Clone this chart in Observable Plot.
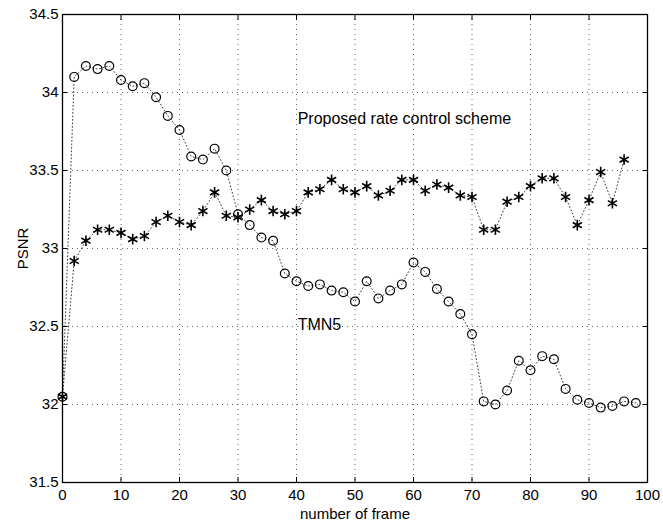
<!DOCTYPE html>
<html>
<head>
<meta charset="utf-8">
<script src="https://cdn.jsdelivr.net/npm/d3@7"></script>
<script src="https://cdn.jsdelivr.net/npm/@observablehq/plot@0.6"></script>
<style>
  html, body { margin: 0; padding: 0; background: #fff; }
  #chart svg { display: block; }
</style>
</head>
<body>
<div id="chart"></div>
<script>
const framesTMN5 = [0,2,4,6,8,10,12,14,16,18,20,22,24,26,28,30,32,34,36,38,40,42,44,46,48,50,52,54,56,58,60,62,64,66,68,70,72,74,76,78,80,82,84,86,88,90,92,94,96,98];
const psnrTMN5 = [32.05,34.10,34.17,34.15,34.17,34.08,34.04,34.06,33.97,33.85,33.76,33.59,33.57,33.64,33.50,33.22,33.15,33.07,33.05,32.84,32.79,32.76,32.77,32.73,32.72,32.66,32.79,32.68,32.73,32.77,32.91,32.85,32.74,32.66,32.58,32.45,32.02,32.00,32.09,32.28,32.22,32.31,32.29,32.10,32.03,32.01,31.98,31.99,32.02,32.01];
const framesProposed = [0,2,4,6,8,10,12,14,16,18,20,22,24,26,28,30,32,34,36,38,40,42,44,46,48,50,52,54,56,58,60,62,64,66,68,70,72,74,76,78,80,82,84,86,88,90,92,94,96];
const psnrProposed = [32.05,32.92,33.05,33.12,33.12,33.10,33.06,33.08,33.17,33.21,33.17,33.15,33.24,33.36,33.21,33.20,33.25,33.31,33.24,33.22,33.24,33.36,33.38,33.44,33.38,33.36,33.40,33.34,33.37,33.44,33.44,33.37,33.41,33.39,33.34,33.33,33.12,33.12,33.30,33.33,33.40,33.45,33.45,33.33,33.15,33.31,33.49,33.29,33.57];
const xTicks = [0,10,20,30,40,50,60,70,80,90,100];
const yTicks = [31.5,32,32.5,33,33.5,34,34.5];
const labelTexts = ["Proposed rate control scheme", "TMN5"];
const labelX = [40.2, 40.2];
const labelY = [33.83, 32.51];

const tmn5 = framesTMN5.map((f, i) => ({frame: f, psnr: psnrTMN5[i]}));
const proposed = framesProposed.map((f, i) => ({frame: f, psnr: psnrProposed[i]}));
const labels = labelTexts.map((t, i) => ({text: t, x: labelX[i], y: labelY[i]}));

const dash = "1,4";
const chart = Plot.plot({
  width: 663,
  height: 521,
  marginLeft: 62,
  marginRight: 16,
  marginTop: 14,
  marginBottom: 39,
  style: {fontFamily: "'Liberation Sans', Arial, sans-serif", fontSize: "15px", color: "#000", background: "#fff"},
  x: {domain: [0, 100], ticks: xTicks},
  y: {domain: [31.5, 34.5], ticks: yTicks},
  marks: [
    Plot.gridX(xTicks, {stroke: "#000", strokeOpacity: 0.6, strokeDasharray: dash}),
    Plot.gridY(yTicks, {stroke: "#000", strokeOpacity: 0.6, strokeDasharray: dash}),
    Plot.axisX(xTicks, {tickSize: 0, tickPadding: 7, fontSize: 15, label: "number of frame", labelAnchor: "center", labelArrow: "none", labelOffset: 36, tickFormat: d => String(d)}),
    Plot.axisY(yTicks, {tickSize: 0, tickPadding: 4, fontSize: 15, label: "PSNR", labelAnchor: "center", labelArrow: "none", labelOffset: 45, tickFormat: d => String(d)}),
    Plot.axisX(xTicks, {anchor: "bottom", tickSize: -5, text: null, label: null}),
    Plot.axisX(xTicks, {anchor: "top", tickSize: -5, text: null, label: null}),
    Plot.axisY(yTicks, {anchor: "left", tickSize: -5, text: null, label: null}),
    Plot.axisY(yTicks, {anchor: "right", tickSize: -5, text: null, label: null}),
    Plot.frame({stroke: "#000", strokeWidth: 1.3}),
    Plot.line(tmn5, {x: "frame", y: "psnr", stroke: "#000", strokeOpacity: 0.75, strokeWidth: 1, strokeDasharray: "1,2.5"}),
    Plot.line(proposed, {x: "frame", y: "psnr", stroke: "#000", strokeOpacity: 0.75, strokeWidth: 1, strokeDasharray: "1,2.5"}),
    Plot.dot(tmn5, {x: "frame", y: "psnr", symbol: "circle", r: 4.4, stroke: "#000", strokeWidth: 1.2, fill: "none"}),
    Plot.dot(proposed, {x: "frame", y: "psnr", symbol: "asterisk", r: 5, stroke: "#000", strokeWidth: 1.6}),
    Plot.text(labels, {x: "x", y: "y", text: "text", textAnchor: "start", fontSize: 16, fill: "#000"})
  ]
});
d3.select(chart).selectAll("text").each(function() {
  const t = this.textContent;
  this.setAttribute("font-size", labelTexts.includes(t) ? "16" : "15");
});
document.getElementById("chart").appendChild(chart);
</script>
</body>
</html>
